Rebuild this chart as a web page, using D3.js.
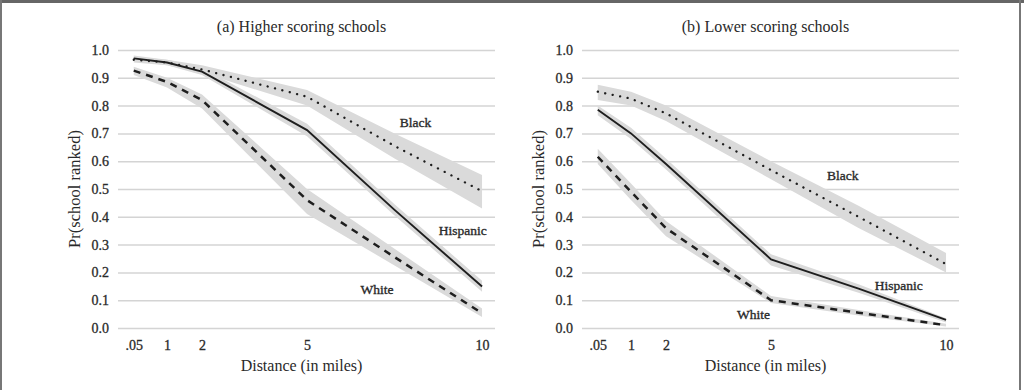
<html>
<head>
<title>School ranking by distance</title>
<style>
  body { margin: 0; background: #fff; }
  text { font-family: "Liberation Serif", "DejaVu Serif", serif; fill: #2a2a2a; }
</style>
</head>
<body>
<svg id="chart" width="1024" height="390"></svg>
<script src="https://cdnjs.cloudflare.com/ajax/libs/d3/7.8.5/d3.min.js"></script>
<script>
// distances (miles) where the curves were read
var distances = [0.05, 1, 2, 5, 7.5, 10];
var tickDistances = [0.05, 1, 2, 5, 10];
var yTicks = [0, 0.1, 0.2, 0.3, 0.4, 0.5, 0.6, 0.7, 0.8, 0.9, 1.0];
var panelTitles = ["(a) Higher scoring schools", "(b) Lower scoring schools"];
var groups = ["Black", "Hispanic", "White"];

// (a) higher scoring schools
var highBlack = [0.965, 0.955, 0.93, 0.832, 0.655, 0.492];
var highBlackLo = [0.955, 0.945, 0.918, 0.80, 0.61, 0.43];
var highBlackHi = [0.975, 0.965, 0.945, 0.856, 0.70, 0.55];
var highHispanic = [0.97, 0.955, 0.922, 0.712, 0.425, 0.149];
var highHispanicLo = [0.96, 0.945, 0.91, 0.69, 0.405, 0.13];
var highHispanicHi = [0.98, 0.965, 0.935, 0.735, 0.445, 0.17];
var highWhite = [0.926, 0.885, 0.82, 0.46, 0.255, 0.053];
var highWhiteLo = [0.91, 0.865, 0.79, 0.41, 0.225, 0.04];
var highWhiteHi = [0.94, 0.90, 0.84, 0.50, 0.285, 0.07];

// (b) lower scoring schools
var lowBlack = [0.85, 0.825, 0.772, 0.568, 0.40, 0.23];
var lowBlackLo = [0.82, 0.80, 0.745, 0.535, 0.36, 0.20];
var lowBlackHi = [0.875, 0.85, 0.80, 0.60, 0.44, 0.27];
var lowHispanic = [0.785, 0.70, 0.59, 0.247, 0.142, 0.029];
var lowHispanicLo = [0.765, 0.68, 0.57, 0.225, 0.127, 0.02];
var lowHispanicHi = [0.80, 0.72, 0.61, 0.265, 0.157, 0.035];
var lowWhite = [0.616, 0.49, 0.359, 0.10, 0.055, 0.01];
var lowWhiteLo = [0.59, 0.46, 0.33, 0.09, 0.045, 0.005];
var lowWhiteHi = [0.645, 0.52, 0.385, 0.115, 0.065, 0.015];

// label anchor points (distance, probability)
var highLabels = [[8.1, 0.74], [9.45, 0.35], [7.0, 0.14]];
var lowLabels = [[7.05, 0.55], [8.65, 0.153], [4.5, 0.05]];

var panels = [
  { title: panelTitles[0], left: 118,
    series: [[highBlack, highBlackLo, highBlackHi], [highHispanic, highHispanicLo, highHispanicHi], [highWhite, highWhiteLo, highWhiteHi]],
    labels: highLabels },
  { title: panelTitles[1], left: 582,
    series: [[lowBlack, lowBlackLo, lowBlackHi], [lowHispanic, lowHispanicLo, lowHispanicHi], [lowWhite, lowWhiteLo, lowWhiteHi]],
    labels: lowLabels }
];

var styles = [
  { dash: "0.1 7.5", width: 2.3, cap: "round" },
  { dash: null, width: 1.9, cap: "butt" },
  { dash: "7 6", width: 2.5, cap: "butt" }
];

var svg = d3.select("#chart");
var plotW = 377, plotTop = 50, plotBottom = 328;

// frame around the figure
svg.append("rect").attr("x", 0).attr("y", 0).attr("width", 1024).attr("height", 3).attr("fill", "#666");
svg.append("rect").attr("x", 0).attr("y", 0).attr("width", 2).attr("height", 390).attr("fill", "#777");
svg.append("rect").attr("x", 1019).attr("y", 0).attr("width", 2).attr("height", 390).attr("fill", "#777");

panels.forEach(function (p) {
  var xScale = d3.scaleLinear().domain([-0.4, 10.37]).range([p.left, p.left + plotW]);
  var yScale = d3.scaleLinear().domain([0, 1]).range([plotBottom, plotTop]);
  var g = svg.append("g");

  var yAxis = d3.axisLeft(yScale).tickValues(yTicks).tickSize(-plotW).tickPadding(9)
    .tickFormat(d3.format(".1f"));
  var ya = g.append("g").attr("transform", "translate(" + p.left + ",0)").call(yAxis);
  ya.select(".domain").remove();
  ya.selectAll(".tick line").attr("stroke", "#d4d4d4").attr("stroke-width", 1.5);
  ya.selectAll(".tick text").style("font-size", "14px").attr("fill", "#2a2a2a")
    .attr("stroke", "#2a2a2a").attr("stroke-width", 0.3)
    .style("font-family", "'Liberation Serif', serif");

  var xAxis = d3.axisBottom(xScale).tickValues(tickDistances).tickSize(0).tickPadding(12)
    .tickFormat(function (d) { return d === 0.05 ? ".05" : d; });
  var xa = g.append("g").attr("transform", "translate(0," + plotBottom + ")").call(xAxis);
  xa.select(".domain").remove();
  xa.selectAll(".tick text").style("font-size", "14px").attr("fill", "#2a2a2a")
    .attr("stroke", "#2a2a2a").attr("stroke-width", 0.3)
    .style("font-family", "'Liberation Serif', serif");

  var area = d3.area()
    .x(function (d) { return xScale(d[0]); })
    .y0(function (d) { return yScale(d[1]); })
    .y1(function (d) { return yScale(d[2]); });
  var line = d3.line()
    .x(function (d) { return xScale(d[0]); })
    .y(function (d) { return yScale(d[1]); });

  p.series.forEach(function (s) {
    var pts = distances.map(function (d, i) { return [d, s[1][i], s[2][i]]; });
    g.append("path").datum(pts).attr("d", area).attr("fill", "#dadada");
  });

  p.series.forEach(function (s, k) {
    var pts = distances.map(function (d, i) { return [d, s[0][i]]; });
    g.append("path").datum(pts).attr("d", line)
      .attr("fill", "none").attr("stroke", "#1e1e1e")
      .attr("stroke-width", styles[k].width)
      .attr("stroke-linecap", styles[k].cap)
      .attr("stroke-dasharray", styles[k].dash);
  });

  p.labels.forEach(function (l, k) {
    g.append("text").attr("x", xScale(l[0])).attr("y", yScale(l[1]))
      .attr("text-anchor", "middle").attr("dy", "0.35em")
      .style("font-size", "13.5px").attr("fill", "#2a2a2a")
      .attr("stroke", "#2a2a2a").attr("stroke-width", 0.35)
      .text(groups[k]);
  });

  var cx = p.left + plotW / 2 - 5;
  g.append("text").attr("x", cx).attr("y", 32).attr("text-anchor", "middle")
    .style("font-size", "16px").text(p.title);
  g.append("text").attr("x", cx).attr("y", 371).attr("text-anchor", "middle")
    .style("font-size", "16px").text("Distance (in miles)");
  g.append("text")
    .attr("transform", "translate(" + (p.left - 44) + "," + ((plotTop + plotBottom) / 2) + ") rotate(-90)")
    .attr("text-anchor", "middle").attr("dy", "0.35em")
    .style("font-size", "16.5px").text("Pr(school ranked)");
});
</script>
</body>
</html>
